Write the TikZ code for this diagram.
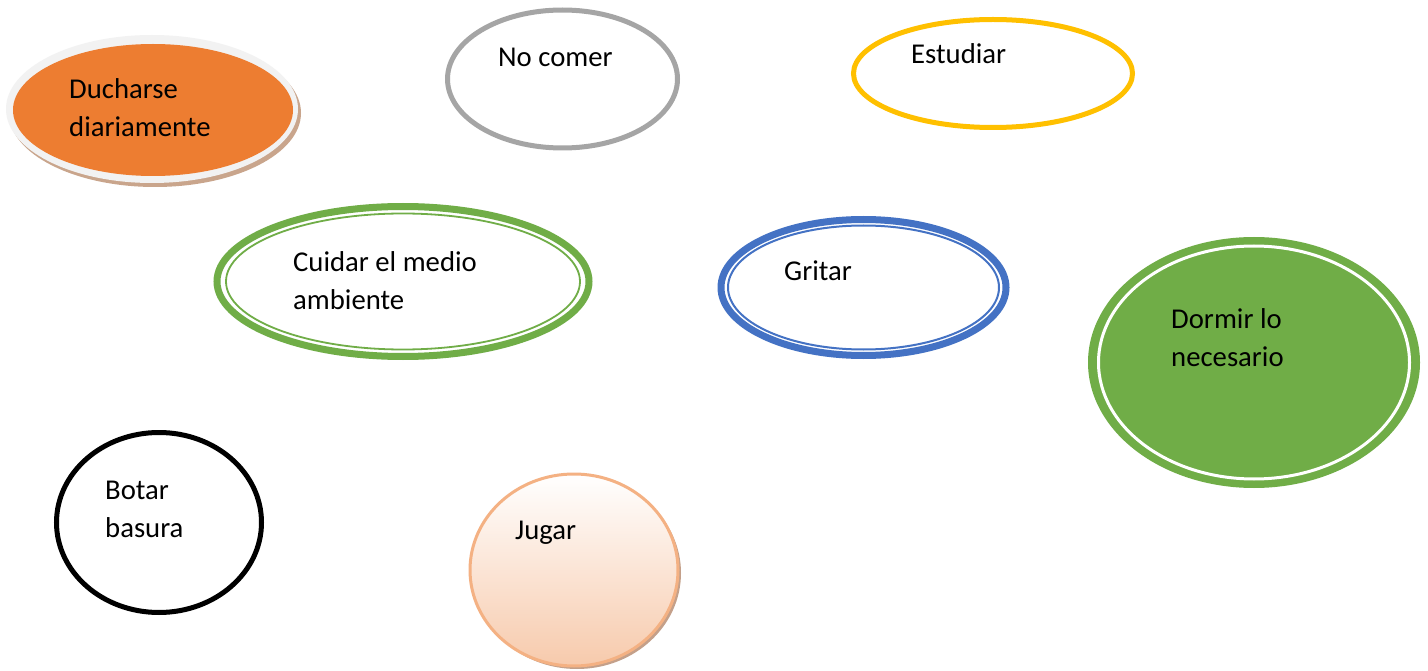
\documentclass[tikz,border=0pt]{standalone}
\usepackage{fontspec}
\setmainfont{Carlito}
\usetikzlibrary{shapes.geometric}
\definecolor{orangeF}{HTML}{ED7D31}
\definecolor{rimG}{HTML}{F2F2F2}
\definecolor{shadowB}{HTML}{C9A58C}
\definecolor{greyL}{HTML}{A5A5A5}
\definecolor{yellowL}{HTML}{FFC000}
\definecolor{greenL}{HTML}{70AD47}
\definecolor{blueL}{HTML}{4472C4}
\definecolor{peachD}{HTML}{F4B183}
\definecolor{peachF}{HTML}{F7CAAC}
\definecolor{shadowJ}{HTML}{C4A08A}
\begin{document}
\begin{tikzpicture}[x=1pt,y=-1pt,
  oval/.style={ellipse, inner sep=0pt, outer sep=0pt},
  lbl/.style={anchor=base west, inner sep=0pt, align=left,
    font=\fontsize{28.7}{38}\selectfont, text=black}]
\useasboundingbox (0,0) rectangle (1428,671);
\fill[white] (0,0) rectangle (1428,671);

% Ducharse diariamente
\node[oval, fill=shadowB, minimum width=292pt, minimum height=148pt] (duchS) at (155,113) {};
\node[oval, fill=rimG, minimum width=292pt, minimum height=148pt] (duchR) at (152,109) {};
\node[oval, fill=orangeF, minimum width=280pt, minimum height=132pt] (duch) at (153,110) {};
\node[lbl] (tduch) at (69,137) {Ducharse\\diariamente};

% No comer
\node[oval, draw=greyL, line width=5pt, minimum width=230pt, minimum height=138pt] (noc) at (562.5,79) {};
\node[lbl] (tnoc) at (498,67) {No comer};

% Estudiar
\node[oval, draw=yellowL, line width=5pt, minimum width=279pt, minimum height=108pt] (est) at (993,73.5) {};
\node[lbl] (test) at (911,64) {Estudiar};

% Cuidar el medio ambiente
\node[oval, draw=greenL, line width=7pt, minimum width=372pt, minimum height=150pt] (cui) at (403,281.5) {};
\node[oval, draw=greenL, line width=1.8pt, minimum width=354pt, minimum height=136pt] (cuiI) at (403,281.5) {};
\node[lbl] (tcui) at (293,309) {Cuidar el medio\\ambiente};

% Gritar
\node[oval, draw=blueL, line width=7pt, minimum width=285pt, minimum height=136pt] (gri) at (863.5,287.5) {};
\node[oval, draw=blueL, line width=2pt, minimum width=271pt, minimum height=124pt] (griI) at (863.5,287.5) {};
\node[lbl] (tgri) at (784,281) {Gritar};

% Dormir lo necesario
\node[oval, fill=greenL, minimum width=332pt, minimum height=251pt] (dor) at (1254,362.5) {};
\node[oval, draw=white, line width=3pt, minimum width=311pt, minimum height=233pt] (dorI) at (1254,362.5) {};
\node[lbl] (tdor) at (1171,366) {Dormir lo\\necesario};

% Botar basura
\node[oval, draw=black, line width=5pt, minimum width=205pt, minimum height=180pt] (bot) at (159,522.5) {};
\node[lbl] (tbot) at (105,537) {Botar\\basura};

% Jugar
\node[oval, fill=shadowJ, minimum width=208pt, minimum height=192pt] (jugS) at (577,573) {};
\node[oval, draw=peachD, line width=3pt, top color=white, bottom color=peachF,
      minimum width=208pt, minimum height=192pt] (jug) at (574,570) {};
\node[lbl] (tjug) at (515,539) {Jugar};
\end{tikzpicture}
\end{document}
